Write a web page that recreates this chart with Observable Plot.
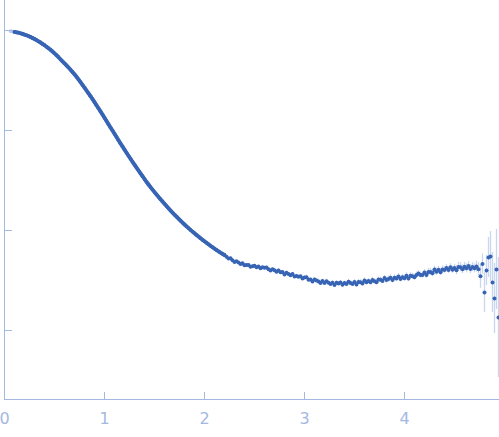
<!DOCTYPE html>
<html>
<head>
<meta charset="utf-8">
<script src="https://cdn.jsdelivr.net/npm/d3@7"></script>
<script src="https://cdn.jsdelivr.net/npm/@observablehq/plot@0.6"></script>
<style>
  html, body { margin: 0; padding: 0; background: #fff; }
  #chart svg { display: block; }
</style>
</head>
<body>
<div id="chart"></div>
<script>
// x ticks (scattering vector) and y ticks (intensity, log scale, unlabelled)
const xTicks = [0, 1, 2, 3, 4];
const yTicks = [1, 0.1, 0.01, 0.001];

// first points, drawn light (excluded range)
const qExcluded = [0.06, 0.075, 0.09];
const logIExcluded = [-0.006, -0.008, -0.011];

// smooth low-q part: q and log10(I)
const qSmooth = [0.10,0.12,0.14,0.16,0.18,0.20,0.22,0.24,0.26,0.28,0.30,0.32,0.34,0.36,0.38,0.40,0.42,0.44,0.46,0.48,
0.50,0.52,0.54,0.56,0.58,0.60,0.62,0.64,0.66,0.68,0.70,0.72,0.74,0.76,0.78,0.80,0.82,0.84,0.86,0.88,
0.90,0.92,0.94,0.96,0.98,1.00,1.02,1.04,1.06,1.08,1.10,1.12,1.14,1.16,1.18,1.20,1.22,1.24,1.26,1.28,
1.30,1.32,1.34,1.36,1.38,1.40,1.42,1.44,1.46,1.48,1.50,1.52,1.54,1.56,1.58,1.60,1.62,1.64,1.66,1.68,
1.70,1.72,1.74,1.76,1.78,1.80,1.82,1.84,1.86,1.88,1.90,1.92,1.94,1.96,1.98,2.00,2.02,2.04,2.06,2.08,
2.10,2.12,2.14,2.16,2.18,2.20];
const logISmooth = [-0.014,-0.018,-0.022,-0.028,-0.034,-0.041,-0.048,-0.056,-0.065,-0.075,-0.085,-0.096,-0.108,-0.120,-0.134,-0.147,-0.162,-0.177,-0.193,-0.210,
-0.228,-0.247,-0.267,-0.288,-0.308,-0.328,-0.349,-0.370,-0.392,-0.415,-0.438,-0.463,-0.489,-0.516,-0.544,-0.572,-0.600,-0.628,-0.657,-0.686,
-0.716,-0.747,-0.778,-0.809,-0.841,-0.873,-0.905,-0.937,-0.969,-1.001,-1.033,-1.065,-1.097,-1.129,-1.160,-1.191,-1.222,-1.253,-1.283,-1.313,
-1.342,-1.371,-1.400,-1.429,-1.457,-1.485,-1.513,-1.540,-1.566,-1.591,-1.616,-1.640,-1.664,-1.687,-1.710,-1.733,-1.756,-1.778,-1.800,-1.821,
-1.842,-1.862,-1.882,-1.902,-1.921,-1.940,-1.958,-1.976,-1.994,-2.011,-2.028,-2.045,-2.061,-2.077,-2.093,-2.108,-2.123,-2.138,-2.153,-2.167,
-2.181,-2.195,-2.208,-2.221,-2.233,-2.245];

// noisy high-q part: q, log10(I) and error half-width (log10 units)
const qTail = [2.22,2.24,2.26,2.28,2.30,2.32,2.34,2.36,2.38,2.40,2.42,2.44,2.46,2.48,2.50,2.52,2.54,2.56,2.58,2.60,
2.62,2.64,2.66,2.68,2.70,2.72,2.74,2.76,2.78,2.80,2.82,2.84,2.86,2.88,2.90,2.92,2.94,2.96,2.98,3.00,
3.02,3.04,3.06,3.08,3.10,3.12,3.14,3.16,3.18,3.20,3.22,3.24,3.26,3.28,3.30,3.32,3.34,3.36,3.38,3.40,
3.42,3.44,3.46,3.48,3.50,3.52,3.54,3.56,3.58,3.60,3.62,3.64,3.66,3.68,3.70,3.72,3.74,3.76,3.78,3.80,
3.82,3.84,3.86,3.88,3.90,3.92,3.94,3.96,3.98,4.00,4.02,4.04,4.06,4.08,4.10,4.12,4.14,4.16,4.18,4.20,
4.22,4.24,4.26,4.28,4.30,4.32,4.34,4.36,4.38,4.40,4.42,4.44,4.46,4.48,4.50,4.52,4.54,4.56,4.58,4.60,
4.62,4.64,4.66,4.68,4.70,4.72,4.74,4.76,4.78,4.80,4.82,4.84,4.86,4.88,4.90,4.92,4.94];
const logITail = [-2.262,-2.281,-2.277,-2.297,-2.314,-2.308,-2.320,-2.336,-2.327,-2.348,-2.346,-2.345,-2.362,-2.358,-2.353,-2.367,-2.361,-2.377,-2.367,-2.372,
-2.369,-2.387,-2.401,-2.388,-2.398,-2.413,-2.399,-2.418,-2.415,-2.439,-2.423,-2.435,-2.447,-2.435,-2.461,-2.454,-2.463,-2.458,-2.481,-2.471,
-2.467,-2.492,-2.490,-2.510,-2.491,-2.499,-2.511,-2.524,-2.506,-2.526,-2.508,-2.522,-2.535,-2.522,-2.546,-2.522,-2.531,-2.519,-2.543,-2.526,
-2.536,-2.513,-2.524,-2.536,-2.516,-2.541,-2.515,-2.518,-2.529,-2.499,-2.517,-2.504,-2.518,-2.494,-2.507,-2.517,-2.490,-2.492,-2.506,-2.474,
-2.496,-2.485,-2.473,-2.496,-2.473,-2.481,-2.459,-2.484,-2.468,-2.478,-2.453,-2.481,-2.452,-2.457,-2.467,-2.444,-2.431,-2.446,-2.446,-2.421,
-2.444,-2.415,-2.416,-2.427,-2.391,-2.412,-2.393,-2.417,-2.391,-2.394,-2.376,-2.395,-2.368,-2.392,-2.374,-2.397,-2.364,-2.367,-2.387,-2.363,
-2.378,-2.356,-2.386,-2.366,-2.378,-2.361,-2.387,-2.458,-2.335,-2.620,-2.400,-2.270,-2.260,-2.520,-2.680,-2.390,-2.870];
const errTail = [0.012,0.012,0.012,0.012,0.012,0.012,0.012,0.012,0.012,0.012,0.012,0.012,0.012,0.012,0.012,0.012,0.012,0.012,0.012,0.012,
0.016,0.016,0.016,0.016,0.016,0.016,0.016,0.016,0.016,0.016,0.016,0.016,0.016,0.016,0.016,0.016,0.016,0.016,0.016,0.016,
0.020,0.020,0.020,0.020,0.020,0.020,0.020,0.020,0.020,0.020,0.020,0.020,0.020,0.020,0.020,0.020,0.020,0.020,0.020,0.020,
0.025,0.025,0.025,0.025,0.025,0.025,0.025,0.025,0.025,0.025,0.025,0.025,0.025,0.025,0.025,0.025,0.025,0.025,0.025,0.025,
0.030,0.030,0.030,0.030,0.030,0.030,0.030,0.030,0.030,0.030,0.030,0.030,0.030,0.030,0.030,0.030,0.030,0.030,0.030,0.030,
0.035,0.035,0.035,0.035,0.035,0.035,0.035,0.035,0.035,0.035,0.035,0.035,0.035,0.035,0.035,0.045,0.045,0.045,0.045,0.045,
0.045,0.045,0.045,0.045,0.045,0.055,0.065,0.120,0.100,0.200,0.150,0.200,0.250,0.300,0.350,0.400,0.600];

const excluded = qExcluded.map((q, i) => ({q, I: 10 ** logIExcluded[i]}));
const smooth = qSmooth.map((q, i) => ({q, I: 10 ** logISmooth[i]}));
const tail = qTail.map((q, i) => ({q, I: 10 ** logITail[i], lo: 10 ** (logITail[i] - errTail[i]), hi: 10 ** (logITail[i] + errTail[i])}));
const all = smooth.concat(tail);
const banded = all.filter(d => d.q >= 2.2 && d.q <= 4.75);

const axisColor = "#a4b8e2";
const dotColor = "#3764b4";
const errColor = "#c9d6ef";
const yMin = 10 ** -3.69, yMax = 10 ** 0.30;

const chart = Plot.plot({
  width: 499,
  height: 437,
  marginLeft: 4,
  marginRight: 0,
  marginTop: 0,
  marginBottom: 38,
  style: {background: "#fff", fontFamily: "DejaVu Sans, sans-serif"},
  x: {domain: [0, 4.95]},
  y: {type: "log", domain: [yMin, yMax]},
  marks: [
    Plot.ruleX(tail, {x: "q", y1: "lo", y2: "hi", stroke: errColor, strokeWidth: 1.3}),
    Plot.dot(excluded, {x: "q", y: "I", r: 1.9, fill: "#bccbea", stroke: "none"}),
    Plot.line(smooth, {x: "q", y: "I", stroke: dotColor, strokeWidth: 3.8}),
    Plot.line(banded, {x: "q", y: "I", stroke: dotColor, strokeWidth: 1.8}),
    Plot.dot(smooth, {x: "q", y: "I", r: 1.9, fill: dotColor, stroke: "none"}),
    Plot.dot(tail, {x: "q", y: "I", r: 2.0, fill: dotColor, stroke: "none"}),
    Plot.ruleX([0], {stroke: axisColor}),
    Plot.ruleY([yMin], {stroke: axisColor}),
    Plot.tickX(xTicks, {x: d => d, stroke: axisColor, insetTop: 392}),
    Plot.tickY(yTicks, {y: d => d, stroke: axisColor, insetRight: 487}),
    Plot.axisX(xTicks, {tickSize: 0, tickPadding: 13, fontSize: 16, color: axisColor, label: null, tickFormat: d => String(d)}),
    Plot.axisY(yTicks, {tickSize: 0, tickFormat: () => "", label: null})
  ]
});
document.getElementById("chart").appendChild(chart);
</script>
</body>
</html>
